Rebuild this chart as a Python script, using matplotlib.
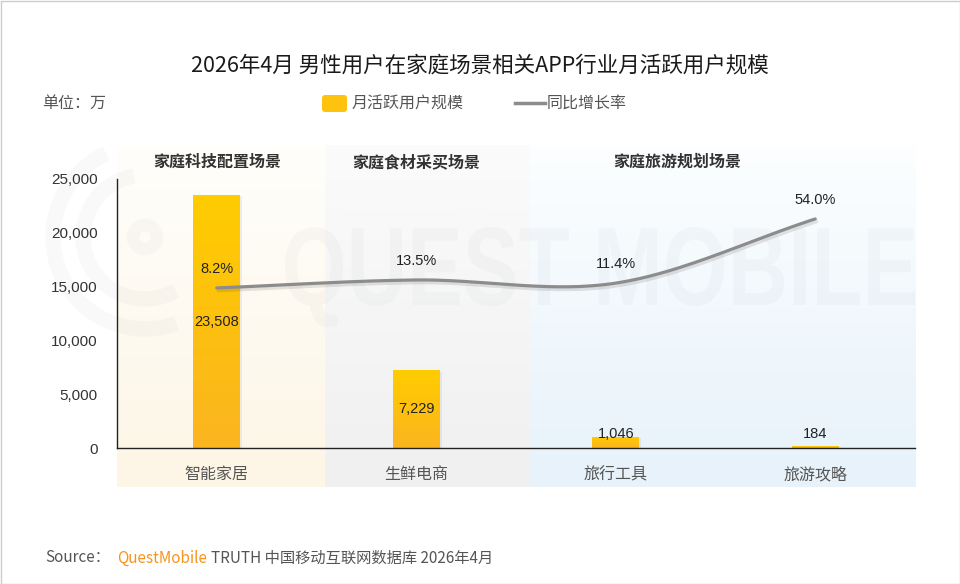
import numpy as np
import matplotlib.pyplot as plt
import matplotlib.patheffects as pe
from matplotlib.colors import LinearSegmentedColormap
from matplotlib.patches import Arc, PathPatch, FancyBboxPatch, Rectangle
from matplotlib.textpath import TextPath
from matplotlib.font_manager import FontProperties
from matplotlib.transforms import Affine2D

plt.rcParams['font.family'] = ['Noto Sans CJK SC', 'DejaVu Sans']

# 数据
categories = ['智能家居', '生鲜电商', '旅行工具', '旅游攻略']
mau = [23508, 7229, 1046, 184]          # 月活跃用户规模（万）
growth = [8.2, 13.5, 11.4, 54.0]        # 同比增长率（%）
groups = ['家庭科技配置场景', '家庭食材采买场景', '家庭旅游规划场景']
group_label_x = [0, 1, 2.31]
group_edges = [-0.5, 0.543, 1.57, 3.5]
yticks = [0, 5000, 10000, 15000, 20000, 25000]

W, H = 960, 584
fig = plt.figure(figsize=(W / 100, H / 100), dpi=100)
fig.patch.set_facecolor('white')
# 像素坐标（左上为原点）
px = Affine2D().scale(1 / W, -1 / H).translate(0, 1) + fig.transFigure

ax = fig.add_axes([117 / W, 1 - 448 / H, 798 / W, 269 / H])
ax.patch.set_visible(False)
x = np.arange(len(categories))

# 场景背景色带
band_cols = [('#fffefb', '#fdf6e6'), ('#fbfbfb', '#f0f0f0'), ('#fcfeff', '#e7f2fa')]
for (c_top, c_bot), a, b in zip(band_cols, group_edges[:-1], group_edges[1:]):
    cm = LinearSegmentedColormap.from_list('band', [c_bot, c_top])
    g = np.linspace(0, 1, 64).reshape(-1, 1)
    x0 = (a + 0.5) / 4
    x1 = (b + 0.5) / 4
    ax.imshow(g, extent=[x0, x1, -0.145, 1.126], transform=ax.transAxes, cmap=cm,
              aspect='auto', origin='lower', clip_on=False, zorder=0, interpolation='bilinear')

# 水印
wm_col = (0.55, 0.58, 0.62, 0.05)
tp = TextPath((0, 0), 'QUEST MOBILE', size=1, prop=FontProperties(family='Liberation Sans', weight='bold'))
ext = tp.get_extents()
sx = 630 / ext.width
sy = 80 / 0.716
wm_tr = Affine2D().translate(-ext.x0, 0).scale(sx, -sy).translate(285, 305) + px
ax.add_patch(PathPatch(tp, facecolor=wm_col, edgecolor='none', transform=wm_tr, clip_on=False, zorder=0.5))
for r, t1, t2 in [(92, 70, 245), (62, 60, 260)]:
    ax.add_patch(Arc((145, 237), 2 * r, 2 * r, theta1=t1, theta2=t2, transform=px,
                     color=wm_col, lw=11, clip_on=False, zorder=0.5))
ax.add_patch(Arc((145, 237), 24, 24, transform=px, color=wm_col, lw=9, clip_on=False, zorder=0.5))

# 柱子
bar_cm = LinearSegmentedColormap.from_list('bar', ['#fbb51f', '#ffcc00'])
bars = ax.bar(x, mau, width=0.235, color='#ffcc00', zorder=2,
              path_effects=[pe.SimplePatchShadow(offset=(1.5, -1), shadow_rgbFace='#999999', alpha=0.15), pe.Normal()])
for bar in bars:
    bx, bw, bh = bar.get_x(), bar.get_width(), bar.get_height()
    im = ax.imshow(np.linspace(0, 1, 64).reshape(-1, 1), extent=[bx, bx + bw, 0, bh],
                   cmap=bar_cm, aspect='auto', origin='lower', zorder=2.1)
    im.set_clip_path(bar)

for xi, v in zip(x, mau):
    ax.text(xi, max(v / 2, 1300), f'{v:,}', ha='center', va='center', fontsize=10.5,
            color='#222222', family='Liberation Sans', zorder=3)

ax.set_xlim(-0.5, 3.5)
ax.set_ylim(0, 25000)
ax.set_yticks(yticks)
ax.set_yticklabels([f'{t:,}' for t in yticks], family='Liberation Sans', fontsize=11, color='#333333')
ax.set_xticks(x)
ax.set_xticklabels(categories, fontsize=11.5, color='#555555')
ax.tick_params(axis='both', length=0)
ax.tick_params(axis='y', pad=14)
ax.tick_params(axis='x', pad=13)
for s in ['top', 'right']:
    ax.spines[s].set_visible(False)
for s in ['left', 'bottom']:
    ax.spines[s].set_color('#222222')
    ax.spines[s].set_linewidth(1)
    ax.spines[s].set_zorder(3)

for gx, gname in zip(group_label_x, groups):
    ax.text(gx, 1.063, gname, transform=ax.get_xaxis_transform(), ha='center', va='center',
            fontsize=11.5, fontweight='bold', color='#333333')

# 同比增长率折线（平滑）
ax2 = ax.twinx()
ax2.set_ylim(-98, 80.5)
ax2.axis('off')
gx_arr = np.array(x, dtype=float)
gy = np.array(growth)
tang = np.gradient(gy, gx_arr)
xs, ys = [], []
for i in range(len(gx_arr) - 1):
    t = np.linspace(0, 1, 60)
    h00 = 2 * t**3 - 3 * t**2 + 1
    h10 = t**3 - 2 * t**2 + t
    h01 = -2 * t**3 + 3 * t**2
    h11 = t**3 - t**2
    xs.append(gx_arr[i] + t)
    ys.append(h00 * gy[i] + h10 * tang[i] + h01 * gy[i + 1] + h11 * tang[i + 1])
ax2.plot(np.concatenate(xs), np.concatenate(ys), color='#8c8c8c', lw=2.3, solid_capstyle='round',
         path_effects=[pe.SimpleLineShadow(offset=(1, -2), alpha=0.1), pe.Normal()])
for xi, v in zip(x, growth):
    ax2.annotate(f'{v:.1f}%', (xi, v), xytext=(0, 13.5), textcoords='offset points',
                 ha='center', va='center', fontsize=10.5, color='#222222', family='Liberation Sans')
ax2.set_xlim(-0.5, 3.5)

# 标题、单位、图例
fig.text(480, 66, '2026年4月 男性用户在家庭场景相关APP行业月活跃用户规模', transform=px,
         ha='center', va='center', fontsize=15.5, color='#1a1a1a')
fig.text(42, 103, '单位：万', transform=px, ha='left', va='center', fontsize=11.5, color='#555555')
fig.patches.append(FancyBboxPatch((322, 95), 25, 17, boxstyle='round,pad=0,rounding_size=3',
                                  transform=px, facecolor='#ffc20e', edgecolor='none'))
fig.text(352, 103, '月活跃用户规模', transform=px, ha='left', va='center', fontsize=11.5, color='#555555')
fig.lines.append(plt.Line2D([515, 545], [103, 103], transform=px, color='#8c8c8c', lw=2.5))
fig.text(547, 103, '同比增长率', transform=px, ha='left', va='center', fontsize=11.5, color='#555555')

# 来源
fig.canvas.draw()
r = fig.canvas.get_renderer()
fig.text(45, 558, 'Source：', transform=px, ha='left', va='center', fontsize=11, color='#555555')
t2 = fig.text(117, 558, 'QuestMobile', transform=px, ha='left', va='center', fontsize=11, color='#f7941d')
bb = t2.get_window_extent(r)
fig.text(bb.x1 + 4, 558, 'TRUTH 中国移动互联网数据库 2026年4月', transform=px,
         ha='left', va='center', fontsize=11, color='#555555')

fig.patches.append(Rectangle((0.5, 0.5), W - 1, H - 1, transform=px, fill=False,
                             edgecolor='#cccccc', lw=1))

fig.savefig('out.png', dpi=100)
